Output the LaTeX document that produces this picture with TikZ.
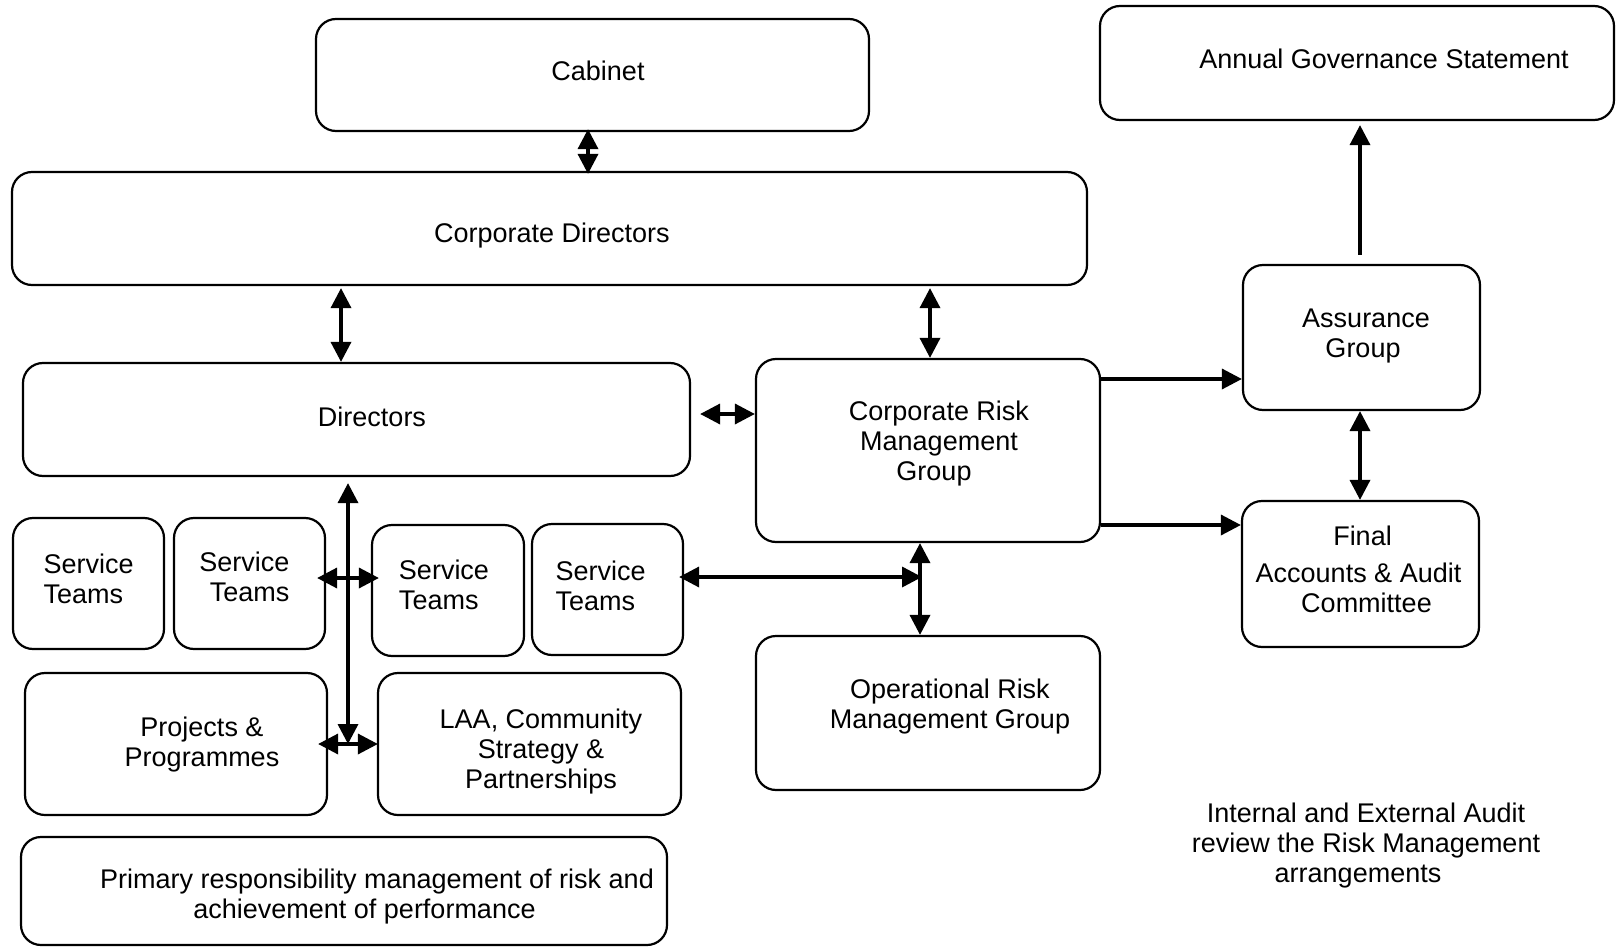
\documentclass[tikz,border=0pt]{standalone}
\usepackage{fontspec}
\setmainfont{Liberation Sans}
\usetikzlibrary{arrows.meta}
\begin{document}
\begin{tikzpicture}[x=1pt,y=-1pt,
 box/.style={draw,line width=2.2pt,rounded corners=20pt,inner sep=0pt},
 lbl/.style={align=center,inner sep=0pt,font=\fontsize{27}{30}\selectfont},
 conn/.style={line width=3.5pt,-{Triangle[length=20pt,width=20pt]}},
 dbl/.style={line width=3.5pt,{Triangle[length=20pt,width=20pt]}-{Triangle[length=20pt,width=20pt]}}]
\useasboundingbox (0,0) rectangle (1617,947);
% boxes
\node[box,minimum width=553pt,minimum height=112pt] (cabinet) at (592.5,75) {};
\node[box,minimum width=514pt,minimum height=114pt] (ags) at (1357,63) {};
\node[box,minimum width=1075pt,minimum height=113pt] (corpdir) at (549.5,228.5) {};
\node[box,minimum width=667pt,minimum height=113pt] (dirs) at (356.5,419.5) {};
\node[box,minimum width=344pt,minimum height=183pt] (crmg) at (928,450.5) {};
\node[box,minimum width=237pt,minimum height=145pt] (assur) at (1361.5,337.5) {};
\node[box,minimum width=237pt,minimum height=146pt] (final) at (1360.5,574) {};
\node[box,minimum width=151pt,minimum height=131pt] (st1) at (88.5,583.5) {};
\node[box,minimum width=151pt,minimum height=131pt] (st2) at (249.5,583.5) {};
\node[box,minimum width=152pt,minimum height=131pt] (st3) at (448,590.5) {};
\node[box,minimum width=151pt,minimum height=131pt] (st4) at (607.5,589.5) {};
\node[box,minimum width=302pt,minimum height=142pt] (proj) at (176,744) {};
\node[box,minimum width=303pt,minimum height=142pt] (laa) at (529.5,744) {};
\node[box,minimum width=344pt,minimum height=154pt] (ormg) at (928,713) {};
\node[box,minimum width=646pt,minimum height=108pt] (prim) at (344,891) {};
% labels
\node[lbl] (cabinet-t) at (598,71) {Cabinet};
\node[lbl] (ags-t) at (1384,59) {Annual Governance Statement};
\node[lbl] (corpdir-t) at (552,236) {Corporate Directors};
\node[lbl] (dirs-t) at (372,417) {Directors};
\node[lbl] (crmg-t) at (939,444) {Corporate Risk\\Management\\Group\hspace*{10pt}};
\node[lbl] (assur-t) at (1366,336) {Assurance\\Group\hspace*{6pt}};
\node[lbl] (final-t) at (1358.5,569) {\hspace*{8pt}Final\\[7pt]Accounts \& Audit\\\hspace*{16pt}Committee};
\node[lbl,align=left] (st1-t) at (88.7,579) {Service\\Teams};
\node[lbl,align=right] (st2-t) at (244.4,577) {Service\\Teams};
\node[lbl,align=left] (st3-t) at (444,585) {Service\\Teams};
\node[lbl,align=left] (st4-t) at (600.7,586) {Service\\Teams};
\node[lbl] (proj-t) at (202,745) {Projects \&\\Programmes};
\node[lbl] (laa-t) at (541,752) {LAA, Community\\Strategy \&\\Partnerships};
\node[lbl] (ormg-t) at (950,707) {Operational Risk\\Management Group};
\node[lbl] (prim-t) at (377,897) {Primary responsibility management of risk and\\achievement of performance\hspace*{25pt}};
\node[lbl] (audit-t) at (1366,846) {Internal and External Audit\\review the Risk Management\\arrangements\hspace*{16pt}};
% connectors
\coordinate (xa) at (588,0);
\draw[dbl,shorten <=-3pt,shorten >=-3pt] (cabinet.south -| xa) -- (corpdir.north -| xa);
\coordinate (xb) at (341,0);
\draw[dbl,shorten <=2pt] (corpdir.south -| xb) -- (dirs.north -| xb);
\coordinate (xc) at (930,0);
\draw[dbl,shorten <=2pt] (corpdir.south -| xc) -- (crmg.north -| xc);
\coordinate (ya) at (0,414);
\draw[dbl,shorten <=9pt] (dirs.east |- ya) -- (crmg.west |- ya);
\coordinate (yb) at (0,379);
\draw[conn] (crmg.east |- yb) -- (assur.west |- yb);
\coordinate (yc) at (0,525);
\draw[conn] (crmg.east |- yc) -- (final.west |- yc);
\coordinate (xd) at (1360,0);
\draw[conn,shorten <=9pt,shorten >=4pt] (assur.north -| xd) -- (ags.south -| xd);
\draw[dbl] (assur.south -| xd) -- (final.north -| xd);
\coordinate (hubA) at (348,744);
\draw[dbl,shorten <=6pt] (dirs.south -| hubA) -- (hubA);
\coordinate (yd) at (0,578);
\draw[dbl,shorten <=-9pt,shorten >=-8pt] (st2.east |- yd) -- (st3.west |- yd);
\draw[dbl,shorten <=-10pt,shorten >=-1pt] (proj.east |- hubA) -- (laa.west |- hubA);
\coordinate (hubB) at (922,577);
\draw[dbl,shorten <=-5pt] (st4.east |- hubB) -- (hubB);
\coordinate (xe) at (920,0);
\draw[dbl] (crmg.south -| xe) -- (ormg.north -| xe);
\end{tikzpicture}
\end{document}
